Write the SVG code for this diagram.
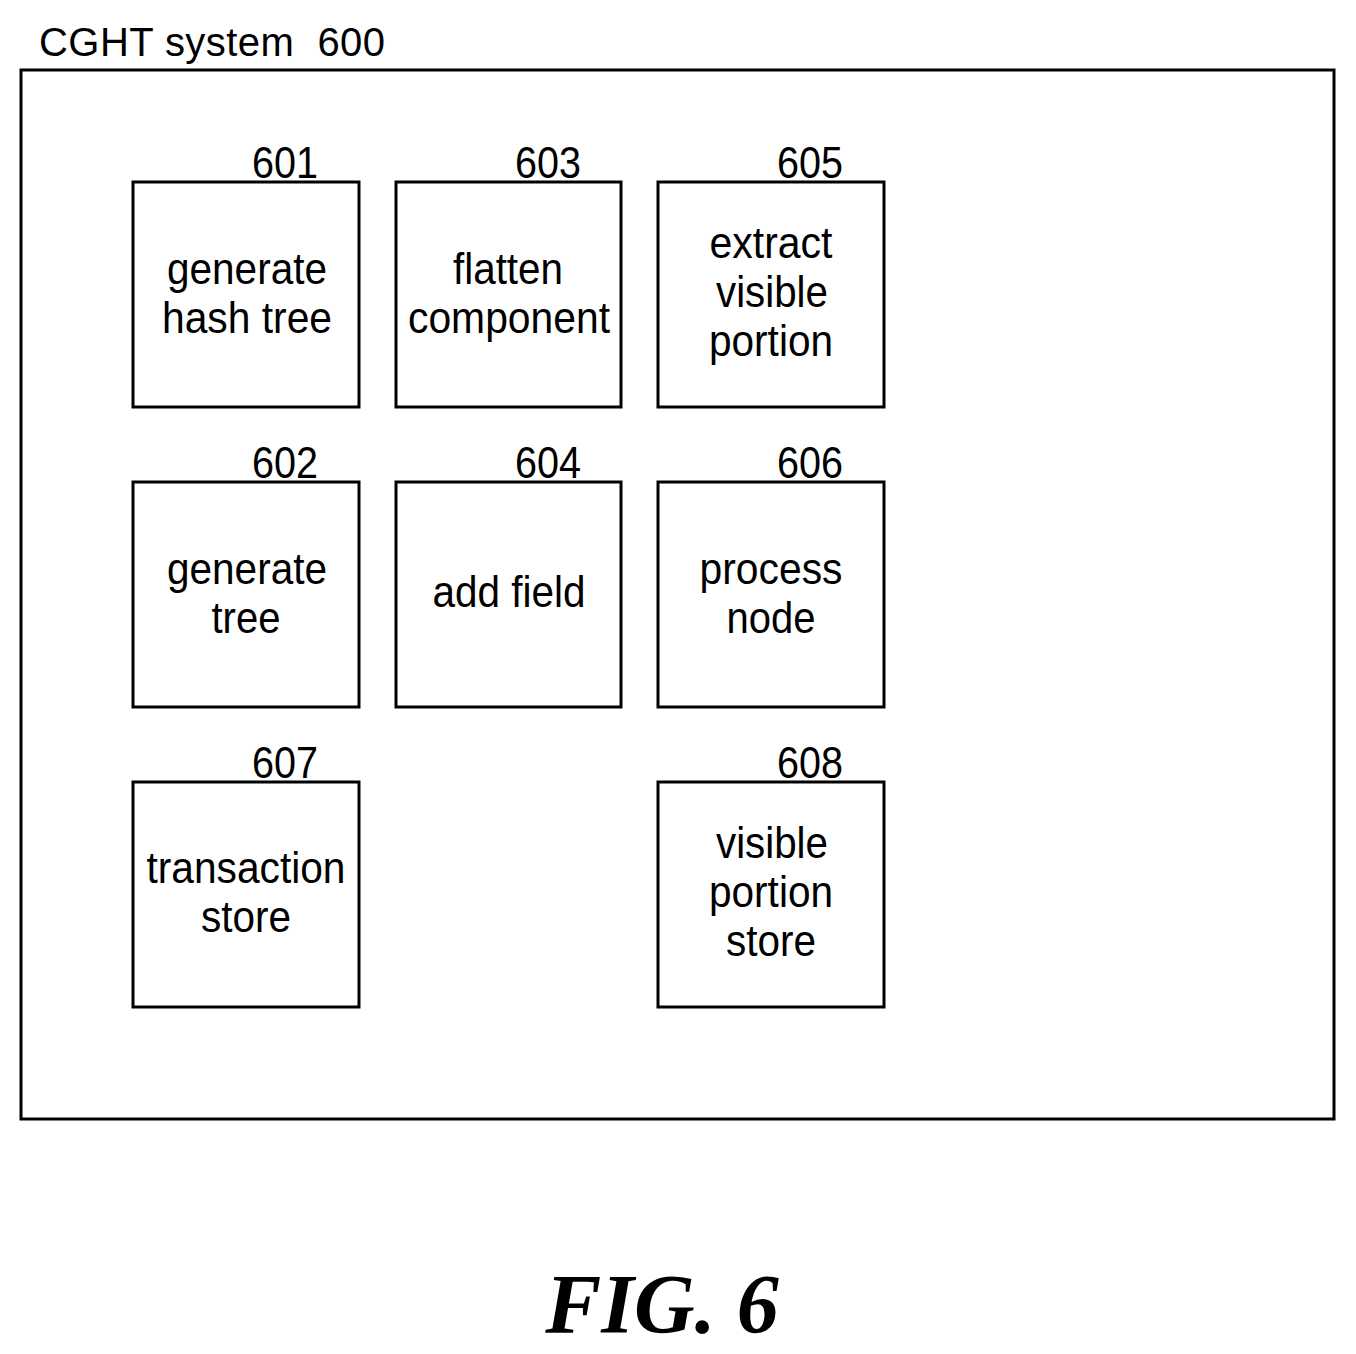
<svg xmlns="http://www.w3.org/2000/svg" width="1356" height="1354" viewBox="0 0 1356 1354">
<style>
rect{fill:none;stroke:#000;stroke-width:3}
text{font-family:"Liberation Sans",Arial,sans-serif;font-size:44px;fill:#000}
.c{text-anchor:middle}
</style>
<rect x="0" y="0" width="1356" height="1354" style="fill:#fff;stroke:none"/>
<g id="system">
<text x="39" y="56" xml:space="preserve" textLength="346" style="font-size:40px">CGHT system  600</text>
<rect x="21" y="70" width="1313" height="1049"/>
</g>
<g id="connectors"></g>
<g id="n601"><rect x="133" y="182" width="226" height="225"/><text x="252" y="178" textLength="66" lengthAdjust="spacingAndGlyphs">601</text>
<text class="c" x="247" y="284" textLength="160" lengthAdjust="spacingAndGlyphs">generate</text><text class="c" x="247" y="333" textLength="170" lengthAdjust="spacingAndGlyphs">hash tree</text></g>
<g id="n603"><rect x="396" y="182" width="225" height="225"/><text x="515" y="178" textLength="66" lengthAdjust="spacingAndGlyphs">603</text>
<text class="c" x="508" y="284" textLength="110" lengthAdjust="spacingAndGlyphs">flatten</text><text class="c" x="509" y="333" textLength="202" lengthAdjust="spacingAndGlyphs">component</text></g>
<g id="n605"><rect x="658" y="182" width="226" height="225"/><text x="777" y="178" textLength="66" lengthAdjust="spacingAndGlyphs">605</text>
<text class="c" x="771" y="258" textLength="123" lengthAdjust="spacingAndGlyphs">extract</text><text class="c" x="772" y="307" textLength="112" lengthAdjust="spacingAndGlyphs">visible</text><text class="c" x="771" y="356" textLength="124" lengthAdjust="spacingAndGlyphs">portion</text></g>
<g id="n602"><rect x="133" y="482" width="226" height="225"/><text x="252" y="478" textLength="66" lengthAdjust="spacingAndGlyphs">602</text>
<text class="c" x="247" y="584" textLength="160" lengthAdjust="spacingAndGlyphs">generate</text><text class="c" x="246" y="633" textLength="69" lengthAdjust="spacingAndGlyphs">tree</text></g>
<g id="n604"><rect x="396" y="482" width="225" height="225"/><text x="515" y="478" textLength="66" lengthAdjust="spacingAndGlyphs">604</text>
<text class="c" x="509" y="607" textLength="153" lengthAdjust="spacingAndGlyphs">add field</text></g>
<g id="n606"><rect x="658" y="482" width="226" height="225"/><text x="777" y="478" textLength="66" lengthAdjust="spacingAndGlyphs">606</text>
<text class="c" x="771" y="584" textLength="143" lengthAdjust="spacingAndGlyphs">process</text><text class="c" x="771" y="633" textLength="89" lengthAdjust="spacingAndGlyphs">node</text></g>
<g id="n607"><rect x="133" y="782" width="226" height="225"/><text x="252" y="778" textLength="66" lengthAdjust="spacingAndGlyphs">607</text>
<text class="c" x="246" y="883" textLength="199" lengthAdjust="spacingAndGlyphs">transaction</text><text class="c" x="246" y="932" textLength="90" lengthAdjust="spacingAndGlyphs">store</text></g>
<g id="n608"><rect x="658" y="782" width="226" height="225"/><text x="777" y="778" textLength="66" lengthAdjust="spacingAndGlyphs">608</text>
<text class="c" x="772" y="858" textLength="112" lengthAdjust="spacingAndGlyphs">visible</text><text class="c" x="771" y="907" textLength="124" lengthAdjust="spacingAndGlyphs">portion</text><text class="c" x="771" y="956" textLength="90" lengthAdjust="spacingAndGlyphs">store</text></g>
<text class="c" x="662" y="1333" style="font-family:'Liberation Serif','Times New Roman',serif;font-size:84px;font-weight:bold;font-style:italic">FIG. 6</text>
</svg>
